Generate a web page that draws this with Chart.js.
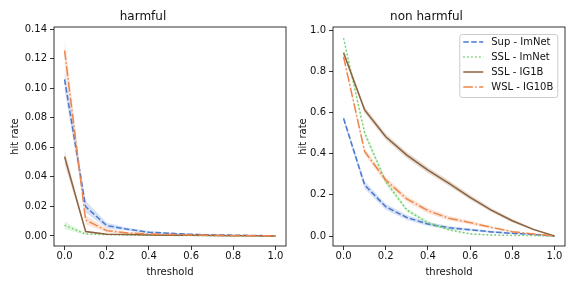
<!DOCTYPE html>
<html>
<head>
<meta charset="utf-8">
<script src="https://cdn.jsdelivr.net/npm/chart.js@4"></script>
<style>
  html, body { margin: 0; padding: 0; background: #fff; }
  #wrap { position: relative; width: 576px; height: 288px; }
  .panel { position: absolute; top: 0; width: 288px; height: 288px; }
</style>
</head>
<body>
<div id="wrap">
  <div class="panel" style="left:0"><canvas id="harmful" width="288" height="288"></canvas></div>
  <div class="panel" style="left:288px"><canvas id="nonharmful" width="288" height="288"></canvas></div>
</div>
<script>
// hit rate vs threshold, two panels, mean line + confidence band per model

const thresholds = [0.0, 0.1, 0.2, 0.3, 0.4, 0.5, 0.6, 0.7, 0.8, 0.9, 1.0];
const modelNames = ['Sup - ImNet', 'SSL - ImNet', 'SSL - IG1B', 'WSL - IG10B'];

// harmful panel: mean hit rate
const harmSupImNet = [0.106, 0.0198, 0.0070, 0.0045, 0.0025, 0.0018, 0.0011, 0.0007, 0.0005, 0.0003, 0.0001];
const harmSslImNet = [0.0072, 0.0013, 0.0009, 0.0006, 0.0005, 0.0004, 0.0003, 0.0002, 0.0001, 0.0001, 0.0];
const harmSslIG1B = [0.0537, 0.0030, 0.0012, 0.0009, 0.0007, 0.0005, 0.0004, 0.0003, 0.0002, 0.0001, 0.0];
const harmWslIG10B = [0.1255, 0.0108, 0.0036, 0.0020, 0.0014, 0.0010, 0.0007, 0.0005, 0.0003, 0.0002, 0.0001];
// harmful panel: half-width of the band
const harmSupImNetCi = [0.007, 0.004, 0.002, 0.001, 0.0008, 0.0005, 0.0004, 0.0003, 0.0002, 0.0001, 0.0];
const harmSslImNetCi = [0.0025, 0.0005, 0.0003, 0.0002, 0.0002, 0.0001, 0.0001, 0.0001, 0.0, 0.0, 0.0];
const harmSslIG1BCi = [0.005, 0.0006, 0.0003, 0.0002, 0.0002, 0.0001, 0.0001, 0.0001, 0.0, 0.0, 0.0];
const harmWslIG10BCi = [0.009, 0.003, 0.0012, 0.0007, 0.0005, 0.0004, 0.0003, 0.0002, 0.0001, 0.0001, 0.0];

// non harmful panel: mean hit rate
const nonSupImNet = [0.571, 0.248, 0.142, 0.090, 0.058, 0.040, 0.030, 0.020, 0.013, 0.007, 0.0];
const nonSslImNet = [0.960, 0.500, 0.264, 0.126, 0.065, 0.030, 0.010, 0.005, 0.003, 0.002, 0.0];
const nonSslIG1B = [0.890, 0.612, 0.482, 0.393, 0.320, 0.256, 0.188, 0.126, 0.074, 0.032, 0.0];
const nonWslIG10B = [0.870, 0.410, 0.272, 0.180, 0.123, 0.086, 0.065, 0.042, 0.021, 0.010, 0.0];
// non harmful panel: half-width of the band
const nonSupImNetCi = [0.015, 0.018, 0.014, 0.012, 0.010, 0.008, 0.006, 0.005, 0.004, 0.002, 0.0];
const nonSslImNetCi = [0.010, 0.015, 0.014, 0.010, 0.008, 0.005, 0.003, 0.002, 0.001, 0.001, 0.0];
const nonSslIG1BCi = [0.012, 0.015, 0.015, 0.015, 0.014, 0.013, 0.012, 0.010, 0.008, 0.005, 0.0];
const nonWslIG10BCi = [0.012, 0.015, 0.015, 0.014, 0.013, 0.011, 0.009, 0.007, 0.005, 0.003, 0.0];

const xTicks = [0.0, 0.2, 0.4, 0.6, 0.8, 1.0];
const harmYTicks = [0.00, 0.02, 0.04, 0.06, 0.08, 0.10, 0.12, 0.14];
const nonYTicks = [0.0, 0.2, 0.4, 0.6, 0.8, 1.0];

const lineColors = ['#4878d0', '#6acc64', '#8c613c', '#ee854a'];
const bandColors = ['rgba(72,120,208,0.22)', 'rgba(106,204,100,0.22)', 'rgba(140,97,60,0.22)', 'rgba(238,133,74,0.22)'];
const lineDashes = [[5.55, 2.4], [1.5, 2.475], [], [9.6, 2.4, 1.5, 2.4]];

const FONT = '"DejaVu Sans", sans-serif';
const INK = '#111';

function buildDatasets(means, cis){
    const sets = [];
    means.forEach((m, i)=>{
        const ci = cis[i];
        const base = sets.length;
        sets.push({
            data: thresholds.map((t, k)=>({x: t, y: m[k] + ci[k]})),
            fill: '+1', backgroundColor: bandColors[i],
            borderWidth: 0, borderColor: 'transparent', pointRadius: 0, order: 100 - base
        });
        sets.push({
            data: thresholds.map((t, k)=>({x: t, y: m[k] - ci[k]})),
            fill: false, borderWidth: 0, borderColor: 'transparent', pointRadius: 0, order: 100 - base - 1
        });
        sets.push({
            label: modelNames[i],
            data: thresholds.map((t, k)=>({x: t, y: m[k]})),
            fill: false, borderColor: lineColors[i], borderWidth: 1.5, borderDash: lineDashes[i],
            pointRadius: 0, tension: 0, order: 100 - base - 2
        });
    });
    return sets;
}

// matplotlib style frame around the plot area
const framePlugin = {
    id: 'frame',
    afterDatasetsDraw(chart){
        const a = chart.chartArea, ctx = chart.ctx;
        ctx.save();
        ctx.strokeStyle = '#000';
        ctx.lineWidth = 0.8;
        ctx.strokeRect(a.left, a.top, a.right - a.left, a.bottom - a.top);
        ctx.restore();
    }
};

// legend drawn inside the axes, upper right
const insideLegend = {
    id: 'insideLegend',
    afterDraw(chart){
        const ctx = chart.ctx, a = chart.chartArea;
        ctx.save();
        ctx.font = '10px ' + FONT;
        const textW = Math.max(...modelNames.map(n => ctx.measureText(n).width));
        const w = 4 + 20 + 8 + textW + 4;
        const rowH = 15;
        const h = 63;
        const right = a.right - 7.7, top = a.top + 7;
        const left = right - w;
        ctx.beginPath();
        ctx.roundRect(left + 0.5, top + 0.5, w, h, 2.5);
        ctx.fillStyle = 'rgba(255,255,255,0.8)';
        ctx.fill();
        ctx.strokeStyle = '#cccccc';
        ctx.lineWidth = 1;
        ctx.stroke();
        modelNames.forEach((name, i)=>{
            const cy = top + 8 + i * rowH;
            ctx.beginPath();
            ctx.setLineDash(lineDashes[i]);
            ctx.strokeStyle = lineColors[i];
            ctx.lineWidth = 1.5;
            ctx.moveTo(left + 4, cy);
            ctx.lineTo(left + 24, cy);
            ctx.stroke();
            ctx.setLineDash([]);
            ctx.fillStyle = INK;
            ctx.textBaseline = 'middle';
            ctx.textAlign = 'left';
            ctx.fillText(name, left + 32, cy);
        });
        ctx.restore();
    }
};

function makePanel(id, title, means, cis, yTicks, yMin, yMax, yDigits, yAxisWidth, rightPad, withLegend){
    const ctx = document.getElementById(id);
    return new Chart(ctx, {
        type: 'line',
        data: { datasets: buildDatasets(means, cis) },
        options: {
            responsive: false,
            animation: false,
            layout: { padding: { left: 0, right: rightPad, top: 0, bottom: 0 } },
            plugins: {
                legend: { display: false },
                tooltip: { enabled: false },
                title: {
                    display: true, text: title, color: INK,
                    font: { family: FONT, size: 12, weight: 'normal', lineHeight: 1.2 },
                    padding: { top: 9.5, bottom: 3.1 }
                }
            },
            scales: {
                x: {
                    type: 'linear', min: -0.05, max: 1.05,
                    afterBuildTicks: s => { s.ticks = xTicks.map(v => ({value: v})); },
                    afterFit: s => { s.height = 42; },
                    border: { display: false },
                    grid: { drawOnChartArea: false, drawTicks: true, tickLength: 4, color: '#000', lineWidth: 0.8 },
                    ticks: {
                        color: INK, padding: 0, maxRotation: 0,
                        font: { family: FONT, size: 10, lineHeight: 1.2 },
                        callback: v => Number(v).toFixed(1)
                    },
                    title: {
                        display: true, text: 'threshold', color: INK,
                        font: { family: FONT, size: 10, lineHeight: 1.2 },
                        padding: { top: 0, bottom: 10 }
                    }
                },
                y: {
                    type: 'linear', min: yMin, max: yMax,
                    afterBuildTicks: s => { s.ticks = yTicks.map(v => ({value: v})); },
                    afterFit: s => { s.width = yAxisWidth; },
                    border: { display: false },
                    grid: { drawOnChartArea: false, drawTicks: true, tickLength: 4, color: '#000', lineWidth: 0.8 },
                    ticks: {
                        color: INK, padding: 3,
                        font: { family: FONT, size: 10, lineHeight: 1.2 },
                        callback: v => Number(v).toFixed(yDigits)
                    },
                    title: {
                        display: true, text: 'hit rate', color: INK,
                        font: { family: FONT, size: 10, lineHeight: 1.2 },
                        padding: { top: 9, bottom: 0 }
                    }
                }
            }
        },
        plugins: withLegend ? [framePlugin, insideLegend] : [framePlugin]
    });
}

makePanel('harmful', 'harmful',
    [harmSupImNet, harmSslImNet, harmSslIG1B, harmWslIG10B],
    [harmSupImNetCi, harmSslImNetCi, harmSslIG1BCi, harmWslIG10BCi],
    harmYTicks, -0.0068, 0.1414, 2, 54, 2, false);

makePanel('nonharmful', 'non harmful',
    [nonSupImNet, nonSslImNet, nonSslIG1B, nonWslIG10B],
    [nonSupImNetCi, nonSslImNetCi, nonSslIG1BCi, nonWslIG10BCi],
    nonYTicks, -0.0485, 1.0146, 1, 45, 11, true);
</script>
</body>
</html>
